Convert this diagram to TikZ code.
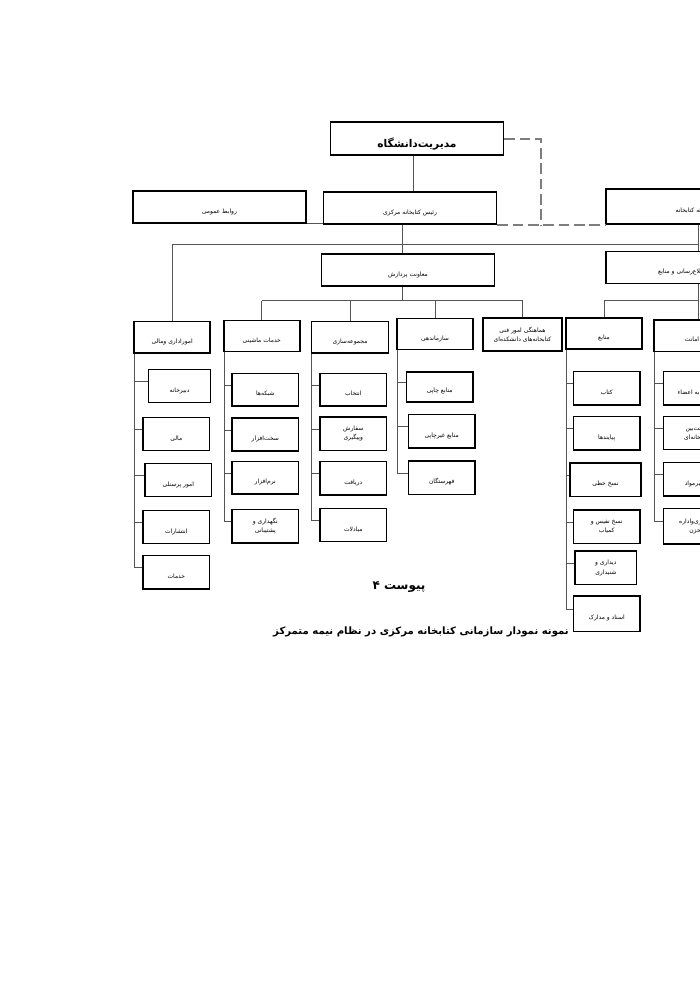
\documentclass[tikz,border=0pt]{standalone}
\usepackage{fontspec}
\usetikzlibrary{calc}
\newfontfamily\fa[Script=Arabic]{DejaVu Sans}
\TeXXeTstate=1
\newcommand{\rl}[1]{\beginR #1\endR}
\definecolor{linegray}{RGB}{85,85,85}
\definecolor{dashgray}{RGB}{125,125,125}

\begin{document}
\begin{tikzpicture}[x=0.75pt,y=-0.75pt,
  frame/.style={draw,line width=1.2pt,inner sep=0pt,align=center,font=\fa\fontsize{4.5}{7}\selectfont},
  box/.style={frame,text height=9pt,text depth=0pt},
  big/.style={minimum width=130pt,minimum height=24pt},
  unit/.style={minimum width=57pt,minimum height=23.5pt},
  kid/.style={minimum width=50pt,minimum height=25pt},
  link/.style={draw=linegray,line width=0.6pt},
  dashlink/.style={draw=dashgray,line width=1.5pt,dash pattern=on 8pt off 3.5pt}]
\useasboundingbox (0,0) rectangle (700,990);
\clip (0,0) rectangle (700,990);

% top levels
\node[frame,big,minimum height=25pt,font=\fa\bfseries\fontsize{8}{10}\selectfont,text height=13pt,text depth=0pt] (uni) at (417,138.5) {\rl{مدیریت‌دانشگاه}};
\node[box,big] (rel) at (219.5,207) {\rl{روابط عمومی}};
\node[box,big] (head) at (410,208) {\rl{رئیس کتابخانه مرکزی}};
\node[box,big,minimum height=26pt] (comm) at (692.5,206.5) {\rl{کمیته کتابخانه}};
\node[box,big] (proc) at (408,270) {\rl{معاونت پردازش}};
\node[box,big] (info) at (692.5,267.5) {\rl{معاونت اطلاع‌رسانی و منابع}};

% units
\node[box,unit] (admin) at (172.2,337.2) {\rl{اموراداری ومالی}};
\node[box,unit] (mach) at (261.8,336) {\rl{خدمات ماشینی}};
\node[box,unit,minimum width=58pt] (coll) at (350,337.2) {\rl{مجموعه‌سازی}};
\node[box,unit] (org) at (435,334) {\rl{سازماندهی}};
\node[frame,unit,minimum width=59pt,minimum height=24.5pt] (coord) at (522.5,334.5) {\rl{هماهنگی امور فنی}\\\rl{کتابخانه‌های دانشکده‌ای}};
\node[box,unit] (res) at (604,333.5) {\rl{منابع}};
\node[box,unit] (circ) at (692,335.8) {\rl{امانت}};

% sections
\node[box,kid,minimum width=46.5pt] (a1) at (179.5,386) {\rl{دبیرخانه}};
\node[box,kid] (a2) at (176.3,434) {\rl{مالی}};
\node[box,kid] (a3) at (178.3,480) {\rl{امور پرسنلی}};
\node[box,kid] (a4) at (176.3,527) {\rl{انتشارات}};
\node[box,kid] (a5) at (176.3,572.3) {\rl{خدمات}};

\node[box,kid,minimum height=24.4pt] (m1) at (265.3,389.7) {\rl{شبکه‌ها}};
\node[box,kid,minimum height=24.4pt] (m2) at (265.3,434.5) {\rl{سخت‌افزار}};
\node[box,kid,minimum height=24.4pt] (m3) at (265.3,477.8) {\rl{نرم‌افزار}};
\node[frame,kid] (m4) at (265.3,526.3) {\rl{نگهداری و}\\\rl{پشتیبانی}};

\node[box,kid,minimum height=24.4pt] (c1) at (353.3,389.7) {\rl{انتخاب}};
\node[frame,kid] (c2) at (353.3,433.7) {\rl{سفارش}\\\rl{وپیگیری}};
\node[box,kid] (c3) at (353.3,478.3) {\rl{دریافت}};
\node[box,kid] (c4) at (353.3,525) {\rl{مبادلات}};

\node[box,kid,minimum height=22.5pt] (o1) at (439.7,386.7) {\rl{منابع چاپی}};
\node[box,kid] (o2) at (441.7,431.2) {\rl{منابع غیرچاپی}};
\node[box,kid] (o3) at (441.7,477.8) {\rl{فهرستگان}};

\node[box,kid] (r1) at (606.7,388.3) {\rl{کتاب}};
\node[box,kid] (r2) at (606.7,433.3) {\rl{پیایندها}};
\node[box,kid,minimum width=53pt] (r3) at (605.5,479.7) {\rl{نسخ خطی}};
\node[frame,kid] (r4) at (606.7,526.7) {\rl{نسخ نفیس و}\\\rl{کمیاب}};
\node[frame,kid,minimum width=46pt] (r5) at (605.8,567.8) {\rl{دیداری و}\\\rl{شنیداری}};
\node[box,kid,minimum height=26.5pt] (r6) at (606.7,613.8) {\rl{اسناد و مدارک}};

\node[box,kid] (k1) at (696.7,388.3) {\rl{امانت به اعضاء}};
\node[frame,kid] (k2) at (696.7,433) {\rl{امانت‌بین}\\\rl{کتابخانه‌ای}};
\node[box,kid] (k3) at (696.7,479.3) {\rl{تعمیرمواد}};
\node[frame,kid,minimum height=26.5pt] (k4) at (696.7,526.2) {\rl{نگهداری‌واداره}\\\rl{مخزن}};

% captions
\node[font=\fa\bfseries\fontsize{9}{11}\selectfont] (app) at (399,587) {\rl{پیوست ۴}};
\node[font=\fa\bfseries\fontsize{7.6}{9}\selectfont] (cap) at (421,632) {\rl{نمونه نمودار سازمانی کتابخانه مرکزی در نظام نیمه متمرکز}};

% connectors
\coordinate (dk) at (541,0);
\coordinate (hx) at (402,0);
\coordinate (spine) at (698,0);
\coordinate (bus) at (0,244);
\coordinate (pbus) at (0,300.7);
\draw[link] (uni.south) ++(-4,0) -- (head.north -| 413,0);
\draw[link] (rel.south east) -- (rel.south east -| head.west);
\draw[dashlink] (uni.east) -| (dk |- head.south) (head.south east) -- (head.south east -| comm.west);
\draw[link] (hx |- head.south) -- (hx |- proc.north);
\draw[link] (admin.north) |- (spine |- bus);
\draw[link] (spine |- comm.south) -- (spine |- info.north);
\draw[link] (spine |- info.south) -- (spine |- circ.north);
\draw[link] (res.north) |- (spine |- pbus);
\draw[link] (hx |- proc.south) -- (hx |- pbus);
\draw[link] (mach.north |- pbus) -- (coord.north |- pbus);
\foreach \u in {mach,coll,org,coord} \draw[link] (\u.north) -- (\u.north |- pbus);
\foreach \p/\kids in {admin/{a1,a2,a3,a4,a5},mach/{m1,m2,m3,m4},coll/{c1,c2,c3,c4},org/{o1,o2,o3},res/{r1,r2,r3,r4,r5,r6},circ/{k1,k2,k3,k4}}
  \foreach \k in \kids
    \draw[link] ($(\p.south west)+(1,0)$) |- ($(\k.north west)!.37!(\k.south west)$);
\end{tikzpicture}
\end{document}
